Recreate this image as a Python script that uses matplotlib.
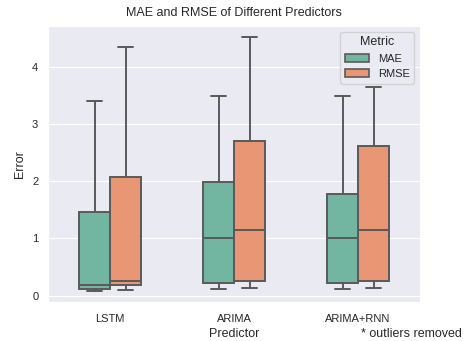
import numpy as np
import matplotlib
matplotlib.use("Agg")
import matplotlib.pyplot as plt
import seaborn as sns
from matplotlib.patches import Patch

predictors = ["LSTM", "ARIMA", "ARIMA+RNN"]
metrics = ["MAE", "RMSE"]
# per predictor: [whislo, q1, med, q3, whishi]  (outliers removed)
mae_stats = [[0.09, 0.12, 0.19, 1.46, 3.40],
             [0.11, 0.22, 1.00, 1.99, 3.48],
             [0.11, 0.22, 1.00, 1.78, 3.49]]
rmse_stats = [[0.10, 0.18, 0.26, 2.07, 4.34],
              [0.14, 0.26, 1.15, 2.70, 4.51],
              [0.14, 0.26, 1.14, 2.61, 3.64]]

sns.set_style("darkgrid")
plt.rcParams["font.family"] = ["Liberation Sans", "DejaVu Sans"]

pal = sns.color_palette("Set2", 2)
cols = [sns.desaturate(c, 0.75) for c in pal]
edge = "#5a5a5a"

fig = plt.figure(figsize=(4.63, 3.41), dpi=100)
ax = fig.add_axes([48 / 463, (341 - 301.7) / 341, 372 / 463, (301.7 - 26) / 341])

w = 0.25
for k, (stats, c) in enumerate([(mae_stats, cols[0]), (rmse_stats, cols[1])]):
    bx = [dict(whislo=s[0], q1=s[1], med=s[2], q3=s[3], whishi=s[4]) for s in stats]
    pos = np.arange(len(predictors)) + (k - 0.5) * w
    ax.bxp(bx, positions=pos, widths=w, showfliers=False, patch_artist=True,
           boxprops=dict(facecolor=c, edgecolor=edge, lw=1.4),
           medianprops=dict(color=edge, lw=1.4),
           whiskerprops=dict(color=edge, lw=1.4),
           capprops=dict(color=edge, lw=1.4), capwidths=w / 2)

ax.set_xlim(-0.5, 2.5)
ax.set_ylim(-0.105, 4.71)
ax.xaxis.grid(False)
ax.set_xticks(range(len(predictors)))
ax.set_xticklabels(predictors, fontsize=8)
ax.set_yticks([0, 1, 2, 3, 4])
ax.tick_params(axis="y", labelsize=8)
ax.tick_params(axis="x", pad=5)
ax.set_xlabel("Predictor", fontsize=9, labelpad=3.5)
ax.set_ylabel("Error", fontsize=9)
ax.set_title("MAE and RMSE of Different Predictors", fontsize=9, pad=7)

handles = [Patch(facecolor=c, edgecolor=edge, lw=1.2, label=m) for c, m in zip(cols, metrics)]
ax.legend(handles=handles, title="Metric", loc="upper right", fontsize=8, title_fontsize=9,
          handlelength=2.2)

fig.text(0.998, 0.003, "* outliers removed", ha="right", va="bottom", fontsize=9)

fig.savefig("out.png", dpi=100)
